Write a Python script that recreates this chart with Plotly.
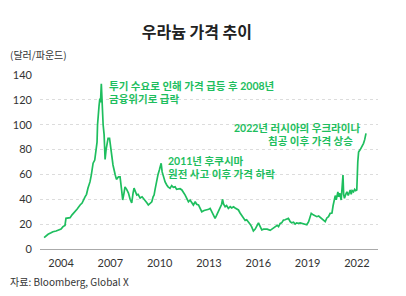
import plotly.graph_objects as go

# decimal years as placed on the chart, and price (USD/lb)
years = [2002.97, 2003.09, 2003.21, 2003.39, 2003.51, 2003.70, 2003.82, 2004.00, 2004.12, 2004.24,
         2004.30, 2004.43, 2004.55, 2004.67, 2004.85, 2004.97, 2005.16, 2005.28, 2005.46, 2005.55,
         2005.64, 2005.76, 2005.84, 2005.92, 2005.95, 2006.05, 2006.13, 2006.19, 2006.22, 2006.25,
         2006.31, 2006.36, 2006.40, 2006.45, 2006.51, 2006.56, 2006.62, 2006.68, 2006.74, 2006.80,
         2006.86, 2006.95, 2007.02, 2007.10, 2007.16, 2007.29, 2007.37, 2007.49, 2007.59, 2007.68,
         2007.75, 2007.83, 2007.89, 2007.99, 2008.10, 2008.20, 2008.30, 2008.38, 2008.44, 2008.53,
         2008.61, 2008.69, 2008.81, 2008.93, 2009.11, 2009.23, 2009.31, 2009.42, 2009.52, 2009.60,
         2009.66, 2009.72, 2009.82, 2009.90, 2009.98, 2010.04, 2010.09, 2010.15, 2010.23, 2010.33,
         2010.43, 2010.51, 2010.63, 2010.73, 2010.83, 2010.94, 2011.03, 2011.14, 2011.24, 2011.35,
         2011.43, 2011.55, 2011.64, 2011.75, 2011.85, 2011.97, 2012.05, 2012.16, 2012.25, 2012.36,
         2012.46, 2012.56, 2012.70, 2012.87, 2012.98, 2013.07, 2013.19, 2013.28, 2013.37, 2013.46,
         2013.57, 2013.68, 2013.77, 2013.82, 2013.89, 2013.98, 2014.07, 2014.18, 2014.29, 2014.38,
         2014.49, 2014.59, 2014.68, 2014.79, 2014.89, 2014.99, 2015.10, 2015.20, 2015.29, 2015.40,
         2015.50, 2015.59, 2015.70, 2015.81, 2015.91, 2016.01, 2016.08, 2016.21, 2016.32, 2016.42,
         2016.54, 2016.72, 2016.87, 2017.02, 2017.15, 2017.23, 2017.33, 2017.42, 2017.53, 2017.63,
         2017.72, 2017.83, 2017.94, 2018.03, 2018.14, 2018.24, 2018.33, 2018.44, 2018.55, 2018.65,
         2018.73, 2018.85, 2018.95, 2019.06, 2019.16, 2019.22, 2019.34, 2019.46, 2019.56, 2019.67,
         2019.76, 2019.87, 2019.96, 2020.07, 2020.17, 2020.27, 2020.37, 2020.48, 2020.55, 2020.62,
         2020.68, 2020.74, 2020.80, 2020.84, 2020.89, 2020.95, 2021.04, 2021.08, 2021.15, 2021.19,
         2021.24, 2021.32, 2021.39, 2021.47, 2021.53, 2021.59, 2021.65, 2021.71, 2021.79, 2021.86,
         2021.92, 2021.99, 2022.05, 2022.10, 2022.20, 2022.30, 2022.40, 2022.47, 2022.55]
prices = [9.1, 10.5, 11.8, 13, 13.9, 14.5, 15.3, 16, 18, 19,
          24.7, 25, 25.2, 27.5, 30, 32, 35.4, 37, 42, 44,
          49, 54, 59.5, 66, 69, 71.6, 80, 86, 100, 109,
          115, 121, 118, 133, 113, 100, 92, 72, 80, 86,
          89, 89, 81, 72, 67.6, 60, 56, 58, 58, 48,
          39.4, 45, 50, 48, 45, 40, 37, 45, 49, 46,
          43.4, 44, 41, 42, 39.4, 37, 35.4, 37, 38, 42,
          43.4, 48, 55.5, 60, 63.5, 67, 69, 62, 58, 54,
          51.5, 50, 48.8, 51, 49.6, 50, 48, 48, 48.5, 47.5,
          46, 43.4, 41, 38, 39.4, 37, 35.4, 38, 36, 35.4,
          32, 30, 31, 31.4, 32, 32.7, 29, 27, 24.7, 27,
          30, 33, 36, 40, 36, 34, 35, 32.7, 34, 33,
          34, 33, 32, 31.4, 29, 27, 24.7, 23, 23.5, 22,
          20, 18, 14.5, 16, 18, 21, 19, 15.3, 16, 15.8,
          16, 15, 16.5, 18, 19, 18, 20.6, 21, 23.3, 23.5,
          24, 24.7, 22, 21, 21.5, 20, 21, 20.6, 21, 20.6,
          20, 20, 19.5, 22, 26, 28.7, 27.5, 27, 26, 26.5,
          25.5, 25, 23.3, 22, 25, 26, 28.7, 29, 35, 40,
          43, 39.5, 44, 46, 42, 45, 39.4, 48, 59.5, 44,
          40.8, 44, 46, 43, 46, 47.5, 44, 47, 46, 48,
          47, 47.5, 70, 78, 80, 82, 85, 88, 93]

tick_years = [2004, 2007, 2010, 2013, 2016, 2019, 2022]
tick_labels = ["2004", "2007", "2010", "2013", "2016", "2019", "2022"]
y_ticks = [0, 20, 40, 60, 80, 100, 120, 140]

# one entry per text line of each callout
notes = [
    {"x": 2006.86, "y": 131.1, "text": "투기 수요로 인해 가격 급등 후 2008년", "xanchor": "left"},
    {"x": 2006.86, "y": 121.0, "text": "금융위기로 급락", "xanchor": "left"},
    {"x": 2010.45, "y": 70.8, "text": "2011년 후쿠시마", "xanchor": "left"},
    {"x": 2010.45, "y": 60.3, "text": "원전 사고 이후 가격 하락", "xanchor": "left"},
    {"x": 2022.25, "y": 97.3, "text": "2022년 러시아의 우크라이나", "xanchor": "right"},
    {"x": 2021.82, "y": 86.9, "text": "침공 이후 가격 상승", "xanchor": "right"},
]

GREEN = "#1EBE5E"
FONT = "Lato, 'Noto Sans CJK KR', sans-serif"
KFONT = "'Noto Sans CJK KR', Lato, sans-serif"

fig = go.Figure()
fig.add_trace(go.Scatter(x=years, y=prices, mode="lines",
                         line=dict(color=GREEN, width=1.7), hoverinfo="skip"))

for n in notes:
    fig.add_annotation(x=n["x"], y=n["y"], text=n["text"], showarrow=False,
                       xanchor=n["xanchor"], yanchor="middle", borderpad=0,
                       font=dict(family=FONT, size=10.5, color=GREEN, weight="bold"))

fig.add_annotation(xref="paper", yref="paper", x=-0.095, y=1.115, text="(달러/파운드)",
                   showarrow=False, xanchor="left", yanchor="middle",
                   font=dict(family=KFONT, size=10, color="#333"))
fig.add_annotation(xref="paper", yref="paper", x=-0.095, y=-0.184, text="자료: Bloomberg, Global X",
                   showarrow=False, xanchor="left", yanchor="middle",
                   font=dict(family=KFONT, size=10, color="#333"))

fig.update_layout(
    width=406, height=296,
    margin=dict(l=40, r=28, t=75, b=47),
    paper_bgcolor="white", plot_bgcolor="white",
    showlegend=False,
    font=dict(family=FONT, size=11, color="#333"),
    title=dict(text="<b>우라늄 가격 추이</b>", x=0.485, xanchor="center",
               y=1 - 32 / 296, yanchor="middle", yref="container",
               font=dict(family=KFONT, size=16, color="#222")),
    xaxis=dict(range=[2002.72, 2023.28], tickvals=tick_years, ticktext=tick_labels,
               showgrid=False, zeroline=False, showline=False, ticks="",
               tickfont=dict(size=11, color="#333"), ticklabelstandoff=6, fixedrange=True),
    yaxis=dict(range=[0, 140], tickvals=y_ticks, showgrid=True, gridcolor="#dcdcdc",
               griddash="dot", gridwidth=1, zeroline=True, zerolinecolor="#aaaaaa",
               zerolinewidth=1, showline=False, ticks="", ticklabelstandoff=7,
               tickfont=dict(size=11, color="#333"), fixedrange=True),
)

fig.write_html("out.html")
